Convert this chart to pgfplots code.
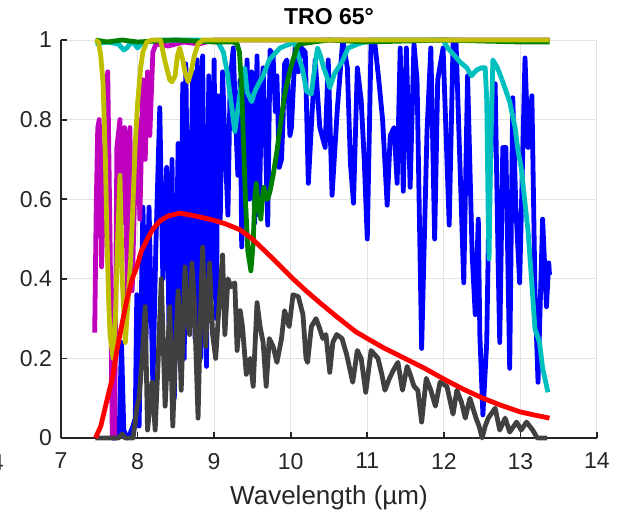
\documentclass[border=0pt]{standalone}
\usepackage{fontspec}
\setmainfont{Liberation Sans}
\usepackage{pgfplots}
\pgfplotsset{compat=1.18}
\definecolor{mblue}{rgb}{0,0,1}
\definecolor{mred}{rgb}{1,0,0}
\definecolor{mgreen}{rgb}{0,0.5,0}
\definecolor{mcyan}{rgb}{0,0.75,0.75}
\definecolor{mmag}{rgb}{0.75,0,0.75}
\definecolor{myel}{rgb}{0.75,0.75,0}
\definecolor{mgray}{rgb}{0.25,0.25,0.25}
\definecolor{axcol}{rgb}{0.15,0.15,0.15}
\begin{document}
\begin{tikzpicture}
\useasboundingbox (-30.5pt,-36pt) rectangle (282pt,219pt);
\begin{axis}[
  at={(0,0)}, anchor=origin,
  scale only axis, width=268pt, height=199pt,
  xmin=7, xmax=14, ymin=0, ymax=1,
  xtick={7,8,...,14}, ytick={0,0.2,0.4,0.6,0.8,1},
  axis x line=bottom, axis y line=left,
  axis line style={axcol, line width=0.9pt, -},
  tick align=inside, major tick length=3pt,
  tick style={axcol, line width=0.9pt},
  grid=major, major grid style={gray!22, line width=0.5pt},
  /pgf/number format/assume math mode=true,
  ticklabel style={font=\fontsize{11.5}{13}\selectfont, text=axcol},
  xticklabel style={yshift=-4pt},
  yticklabel style={xshift=-1pt},
  xlabel={Wavelength (µm)},
  xlabel style={font=\fontsize{13}{15}\selectfont, text=axcol, yshift=-1.5pt},
  title={TRO 65°},
  title style={font=\fontsize{11.5}{13}\selectfont\bfseries, yshift=-2pt},
  clip=false,
  every axis plot/.append style={line width=2.4pt, line join=round, no markers},
]
% blue
\addplot[mblue] coordinates {
(7.67,0.00)(7.72,0.00)(7.76,0.01)(7.79,0.24)(7.82,0.02)(7.86,0.00)(7.90,0.01)(7.94,0.03)(7.97,0.05)(7.99,0.36)
(8.02,0.03)(8.07,0.58)(8.11,0.25)(8.15,0.58)(8.20,0.13)(8.24,0.49)(8.29,0.83)(8.33,0.40)(8.38,0.68)(8.42,0.15)
(8.45,0.70)(8.48,0.10)(8.53,0.74)(8.56,0.30)(8.59,0.89)(8.61,0.20)(8.63,0.94)(8.67,0.30)(8.72,0.92)(8.75,0.25)
(8.78,0.95)(8.82,0.20)(8.85,0.96)(8.88,0.30)(8.90,0.18)(8.93,0.91)(8.97,0.35)(9.00,0.95)(9.03,0.30)(9.05,0.86)
(9.08,0.55)(9.11,0.92)(9.14,0.75)(9.18,0.56)(9.21,0.90)(9.25,0.98)(9.28,0.80)(9.31,0.66)(9.34,0.90)(9.36,0.48)
(9.39,0.70)(9.43,0.95)(9.46,0.60)(9.49,0.92)(9.53,0.54)(9.56,0.96)(9.59,0.56)(9.62,0.88)(9.64,0.93)(9.67,0.75)
(9.70,0.535)(9.73,0.975)(9.77,0.96)(9.80,0.82)(9.82,0.91)(9.85,0.68)(9.88,0.70)(9.90,0.80)(9.92,0.94)(9.95,0.95)
(9.99,0.76)(10.01,0.78)(10.06,0.99)(10.10,0.92)(10.14,0.98)(10.19,0.97)(10.23,0.64)(10.28,0.82)(10.32,0.95)(10.38,0.78)
(10.45,0.73)(10.49,0.95)(10.54,0.61)(10.61,0.83)(10.68,1.00)(10.74,0.93)(10.78,0.69)(10.82,0.59)(10.87,0.93)(10.92,0.85)
(10.96,0.70)(11.00,0.50)(11.05,1.00)(11.10,0.99)(11.15,0.90)(11.20,0.80)(11.26,0.585)(11.30,0.76)(11.35,0.78)(11.39,0.64)
(11.43,0.98)(11.47,0.62)(11.51,0.98)(11.56,0.63)(11.61,0.99)(11.65,0.90)(11.71,0.225)(11.78,0.77)(11.83,0.98)(11.88,0.50)
(11.92,0.90)(11.99,0.98)(12.07,0.535)(12.12,0.99)(12.16,0.99)(12.20,0.75)(12.26,0.39)(12.31,0.91)(12.37,0.46)(12.41,0.31)
(12.45,0.55)(12.47,0.26)(12.51,0.058)(12.56,0.24)(12.59,0.60)(12.63,0.80)(12.67,0.89)(12.71,0.43)(12.73,0.24)(12.77,0.73)
(12.81,0.73)(12.86,0.175)(12.90,0.855)(12.94,0.58)(12.99,0.39)(13.06,0.955)(13.10,0.73)(13.15,0.86)(13.19,0.37)(13.23,0.14)
(13.29,0.55)(13.34,0.33)(13.37,0.44)(13.38,0.41)
};
% magenta
\addplot[mmag] coordinates {
(7.44,0.265)(7.46,0.58)(7.48,0.78)(7.50,0.80)(7.53,0.43)(7.57,0.72)(7.61,0.92)(7.64,0.51)(7.67,0.00)(7.70,0.00)
(7.73,0.73)(7.77,0.80)(7.80,0.54)(7.83,0.78)(7.87,0.34)(7.90,0.78)(7.93,0.37)(7.96,0.60)(8.00,0.80)(8.03,0.55)
(8.07,0.90)(8.10,0.70)(8.13,0.92)(8.16,0.76)(8.20,0.97)(8.24,0.99)(8.40,0.985)(8.60,0.995)(8.80,0.99)(9.00,1.00)
(10.0,1.00)(11.0,1.00)(12.0,1.00)(13.38,1.00)
};
% cyan
\addplot[mcyan] coordinates {
(7.45,0.99)(7.60,0.995)(7.75,0.99)(7.82,0.975)(7.86,0.98)(7.90,0.99)(7.94,0.995)(8.00,0.98)(8.07,0.995)(8.30,1.00)
(8.80,1.00)(9.05,0.995)(9.12,0.97)(9.17,0.92)(9.21,0.86)(9.25,0.80)(9.27,0.77)(9.32,0.84)(9.36,0.90)(9.40,0.93)
(9.43,0.87)(9.49,0.845)(9.53,0.87)(9.58,0.89)(9.64,0.91)(9.72,0.95)(9.86,0.98)(9.99,0.99)(10.05,0.995)(10.10,0.96)
(10.15,0.93)(10.21,0.87)(10.27,0.865)(10.30,0.91)(10.35,0.98)(10.39,0.96)(10.43,0.93)(10.47,0.91)(10.51,0.88)(10.57,0.915)
(10.67,0.945)(10.75,0.98)(10.88,0.99)(11.05,1.00)(11.50,1.00)(11.99,1.00)(12.05,0.98)(12.12,0.965)(12.21,0.945)(12.30,0.93)
(12.36,0.91)(12.43,0.925)(12.49,0.93)(12.54,0.93)(12.56,0.85)(12.58,0.55)(12.59,0.45)(12.61,0.70)(12.64,0.95)(12.70,0.93)
(12.77,0.895)(12.86,0.845)(12.93,0.78)(12.97,0.72)(13.01,0.68)(13.06,0.59)(13.10,0.52)(13.15,0.385)(13.19,0.275)(13.25,0.24)
(13.29,0.175)(13.36,0.115)
};
% green
\addplot[mgreen] coordinates {
(7.45,1.00)(7.60,0.995)(7.80,1.00)(8.00,0.995)(8.50,1.00)(9.00,0.995)(9.25,0.995)(9.30,0.99)(9.33,0.97)(9.36,0.88)
(9.38,0.76)(9.41,0.595)(9.44,0.47)(9.48,0.42)(9.51,0.49)(9.53,0.60)(9.55,0.64)(9.57,0.60)(9.59,0.57)(9.61,0.55)
(9.63,0.60)(9.65,0.63)(9.68,0.60)(9.70,0.60)(9.73,0.62)(9.77,0.66)(9.82,0.72)(9.86,0.78)(9.89,0.82)(9.92,0.86)
(9.95,0.89)(10.00,0.93)(10.03,0.95)(10.08,0.98)(10.12,0.99)(10.30,0.995)(10.50,1.00)(11.00,0.995)(12.00,1.00)(13.00,0.995)
(13.38,0.995)
};
% yellow
\addplot[myel] coordinates {
(7.45,1.00)(7.49,0.995)(7.52,0.96)(7.55,0.89)(7.58,0.70)(7.60,0.51)(7.62,0.36)(7.64,0.26)(7.68,0.20)(7.71,0.30)
(7.74,0.50)(7.77,0.66)(7.80,0.40)(7.84,0.24)(7.87,0.33)(7.91,0.45)(7.94,0.59)(7.97,0.74)(8.00,0.84)(8.04,0.93)
(8.07,0.97)(8.12,0.995)(8.19,1.00)(8.30,1.00)(8.36,0.945)(8.42,0.90)(8.45,0.895)(8.49,0.91)(8.52,0.96)(8.55,0.98)
(8.59,0.95)(8.62,0.92)(8.66,0.895)(8.70,0.92)(8.74,0.96)(8.79,0.99)(8.85,1.00)(10.0,1.00)(11.0,1.00)(12.0,1.00)
(13.38,1.00)
};
% dark gray
\addplot[mgray] coordinates {
(7.45,0.0)(7.60,0.0)(7.75,0.0)(7.80,0.01)(7.84,0.0)(7.94,0.0)(7.97,0.04)(7.99,0.075)(8.02,0.10)(8.06,0.20)
(8.10,0.33)(8.13,0.02)(8.16,0.08)(8.19,0.14)(8.23,0.02)(8.27,0.20)(8.31,0.40)(8.36,0.08)(8.39,0.20)(8.42,0.33)
(8.46,0.03)(8.50,0.25)(8.53,0.37)(8.57,0.12)(8.62,0.43)(8.65,0.30)(8.68,0.26)(8.71,0.44)(8.74,0.35)(8.79,0.05)
(8.82,0.30)(8.85,0.48)(8.89,0.23)(8.92,0.35)(8.94,0.44)(8.98,0.26)(9.02,0.20)(9.07,0.35)(9.11,0.46)(9.14,0.26)
(9.18,0.40)(9.22,0.38)(9.27,0.39)(9.30,0.22)(9.34,0.32)(9.37,0.28)(9.42,0.16)(9.47,0.20)(9.51,0.13)(9.56,0.34)
(9.60,0.28)(9.64,0.24)(9.68,0.13)(9.72,0.25)(9.77,0.23)(9.82,0.19)(9.88,0.25)(9.92,0.32)(9.98,0.28)(10.03,0.36)
(10.10,0.355)(10.16,0.31)(10.20,0.20)(10.22,0.19)(10.27,0.28)(10.33,0.30)(10.37,0.28)(10.42,0.25)(10.46,0.26)(10.51,0.165)
(10.55,0.24)(10.60,0.26)(10.67,0.25)(10.73,0.21)(10.81,0.14)(10.87,0.22)(10.92,0.20)(10.98,0.115)(11.05,0.22)(11.14,0.20)
(11.19,0.16)(11.23,0.12)(11.29,0.15)(11.34,0.17)(11.40,0.19)(11.46,0.12)(11.52,0.18)(11.56,0.16)(11.61,0.13)(11.66,0.12)
(11.71,0.04)(11.77,0.15)(11.83,0.12)(11.89,0.08)(11.95,0.14)(12.04,0.13)(12.12,0.06)(12.17,0.12)(12.23,0.09)(12.28,0.05)
(12.34,0.10)(12.42,0.05)(12.46,0.03)(12.50,0.0)(12.54,0.03)(12.58,0.05)(12.67,0.075)(12.73,0.02)(12.80,0.05)(12.86,0.015)
(12.95,0.04)(13.01,0.02)(13.08,0.04)(13.16,0.02)(13.22,0.0)(13.35,0.0)
};
% red
\addplot[mred] coordinates {
(7.45,0.0)(7.52,0.03)(7.60,0.095)(7.67,0.15)(7.73,0.22)(7.80,0.29)(7.86,0.347)(7.93,0.40)(7.99,0.43)(8.05,0.47)
(8.12,0.497)(8.20,0.525)(8.29,0.545)(8.40,0.558)(8.55,0.565)(8.75,0.558)(8.98,0.548)(9.15,0.538)(9.34,0.523)(9.50,0.50)
(9.69,0.465)(9.85,0.435)(10.03,0.40)(10.20,0.37)(10.38,0.34)(10.60,0.305)(10.85,0.267)(11.00,0.25)(11.20,0.228)(11.45,0.204)
(11.75,0.175)(12.02,0.146)(12.25,0.123)(12.51,0.10)(12.75,0.082)(12.99,0.066)(13.20,0.057)(13.38,0.05)
};
\end{axis}
\node[anchor=east, font=\fontsize{11.5}{13}\selectfont, text=axcol, inner sep=0pt] at (-28.5pt,-12.5pt) {14};
\end{tikzpicture}
\end{document}
